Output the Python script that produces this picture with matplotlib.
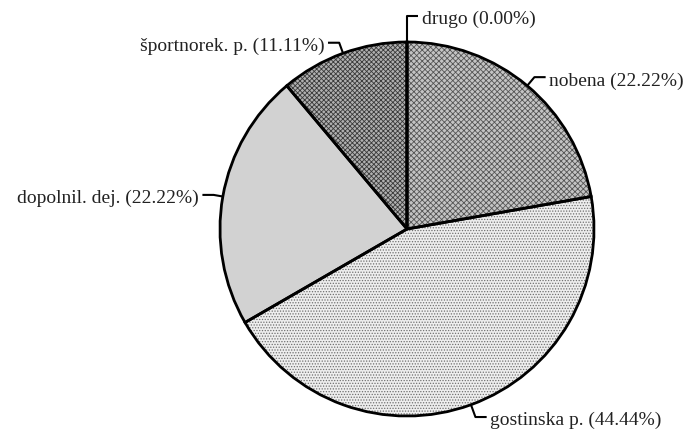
import numpy as np
import matplotlib
matplotlib.use("Agg")
import matplotlib.pyplot as plt

labels = ["drugo", "nobena", "gostinska p.", "dopolnil. dej.", "športnorek. p."]
values = [0.00, 22.22, 44.44, 22.22, 11.11]

facecolors = ["white", "#c4c4c4", "#eeeeee", "#d2d2d2", "#b0b0b0"]
hatches = ["", "xxxxxx", "......", "", "xxxxxxx"]
hatchcolors = ["black", "#555555", "#707070", "#d2d2d2", "#3a3a3a"]
elbow_r = [1.14, 1.06, 1.07, 1.05, 1.06]

plt.rcParams["font.family"] = ["Liberation Serif", "DejaVu Serif"]
plt.rcParams["hatch.linewidth"] = 0.6

fig = plt.figure(figsize=(6.92, 4.31), dpi=100)
ax = fig.add_axes([0, 0, 1, 1])

# hatched fills
wedges, _ = ax.pie(values, startangle=90, counterclock=False, radius=1,
                   colors=facecolors, wedgeprops=dict(linewidth=0))
for w, h, hc in zip(wedges, hatches, hatchcolors):
    w.set_hatch(h)
    w.set_edgecolor(hc)
    w.set_linewidth(0)
# outlines
wedges2, _ = ax.pie(values, startangle=90, counterclock=False, radius=1,
                    wedgeprops=dict(fill=False, edgecolor="black", linewidth=2))
ax.set_xlim(-407 / 187, (692 - 407) / 187)
ax.set_ylim(-201 / 187, 230 / 187)
ax.set_aspect("equal")
ax.axis("off")

total = sum(values)
start = 90.0
for lab, v, er in zip(labels, values, elbow_r):
    sweep = 360.0 * v / total
    mid = np.deg2rad(start - sweep / 2)
    start -= sweep
    x0, y0 = np.cos(mid), np.sin(mid)
    x1, y1 = er * x0, er * y0
    side = 1 if x0 >= -1e-9 else -1
    x2 = x1 + side * 0.06
    ax.plot([x0, x1, x2], [y0, y1, y1], color="black", lw=1.5,
            solid_capstyle="butt", solid_joinstyle="round")
    ax.text(x2 + side * 0.02, y1 - 0.015, f"{lab} ({v:.2f}%)",
            ha="left" if side > 0 else "right", va="center",
            fontsize=14, color="#222222")

fig.savefig("out.png", dpi=100)
